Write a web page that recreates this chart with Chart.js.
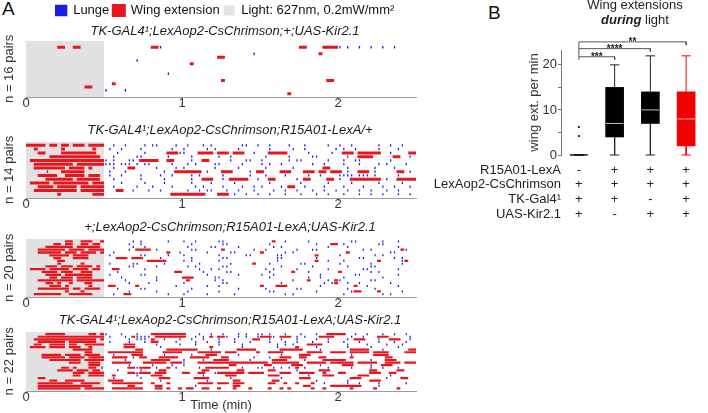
<!DOCTYPE html>
<html>
<head>
<meta charset="utf-8">
<script src="https://cdn.jsdelivr.net/npm/chart.js@4.4.0/dist/chart.umd.min.js"></script>
<style>
html, body { margin: 0; padding: 0; background: #fff; width: 708px; height: 413px; overflow: hidden; }
.wrap { position: absolute; }
.panel { position: absolute; font-family: 'Liberation Sans', Arial, sans-serif; font-size: 19px; color: #111; }
#titleB { position: absolute; left: 560px; width: 150px; top: -3px; text-align: center;
  font-family: 'Liberation Sans', Arial, sans-serif; font-size: 13px; line-height: 15px; color: #222; z-index: 2; }
</style>
</head>
<body>
<div class="panel" style="left:2px;top:-2px">A</div>
<div class="panel" style="left:488px;top:2px">B</div>
<div id="titleB">Wing extensions<br><b><i>during</i></b> light</div>

<div class="wrap" style="left:0;top:0;width:450px;height:115px"><canvas id="raster1"></canvas></div>
<div class="wrap" style="left:0;top:119px;width:460px;height:97px"><canvas id="raster2"></canvas></div>
<div class="wrap" style="left:0;top:216px;width:460px;height:99px"><canvas id="raster3"></canvas></div>
<div class="wrap" style="left:0;top:309px;width:460px;height:104px"><canvas id="raster4"></canvas></div>
<div class="wrap" style="left:420px;top:0;width:288px;height:225px"><canvas id="boxes"></canvas></div>

<script>
const FONT = "'Liberation Sans', Arial, sans-serif";
const BLUE = '#1c1ce4';
const RED = '#e8161c';
const GRAY = '#e2e2e2';

// ethogram strings: one char = 0.025 min, '|' jumps to the next 0.5 min block
// 'w' = wing extension, 'l' = lunge, '.' = nothing
const BIN = 0.025;
const BLOCK = 20;

const timeTicks = [0, 1, 2];
const timeMax = 2.5;
const lightPeriod = [0, 0.5];

const rasterTitles = [
  'TK-GAL4\u00b9;LexAop2-CsChrimson;+;UAS-Kir2.1',
  'TK-GAL4\u00b9;LexAop2-CsChrimson;R15A01-LexA/+',
  '+;LexAop2-CsChrimson;R15A01-LexA;UAS-Kir2.1',
  'TK-GAL4\u00b9;LexAop2-CsChrimson;R15A01-LexA;UAS-Kir2.1'
];
const rasterPairs = [16, 14, 20, 22];

const raster1Rows = [
  '',
  '........ww..ww|............wwl||..........ww....wwww|l.l..l..l..l..l',
  '',
  '||..................l|...............w',
  '||.........ww',
  '|........l',
  '||..w',
  '',
  '',
  '|................l',
  '',
  '||..........w|.................ww',
  '|..w',
  '...............ww',
  '|l....l',
  '|||.......w'
];

const raster2Rows = [
  'wwwww.ww.ww.www.wwww|..l..l....l.ll....l.|.l...l.l.......ll..l|..l....l...l.....l|l..l......l..l..l',
  '..w......w.......w|.l..l....l.......l|l.....l.l.....l|..l.....l..l.......l|.l..l.....l....l',
  '...ww....wwwwwwwww|...l......l.....wwwl|l...wwww.www.www..l|..wwwww.....l.....l|.www.wwwwww..l....ww',
  '......wwwwwwwwwwwww|..l.....ll......l|..l......l..l|.l.....l.....ll|..l..wwww.....ww..l',
  '.wwwwwwwwwwwwwwwwwww|l.l...ll.wwwww..ww|..l..ww.....l...ll|l......l.ll......l|.l..ll.......l',
  '..wwwwwwwwww.wwwwwww|lll.lll.l.ll.....l|.l.l....ll.....l|l.l..l.......l..l|.l...l....l.l....l',
  '..wwwwwwww.wwww.w|..l...ww.....l....l|l.......l.....l|.l......l.......ww|..l......l....l',
  '.....l...wwwwww|.l...l.........l..ww|wwwww.l...www....l.w|w....www...www.ww.ww|w.l..www.l.....ww.l',
  '...wwwww..wwwww.www|.l..l....l....l..l|..l.l.....l......l|.l....l.....l..l|llll.lll.l.....l',
  '.....wwwwwww.wwwwww|..l......l.....l|..l..www..l.wwwww..l|..ww.....l.ww....ww|l..wwwwwwww.l..wwwww',
  '.wwwww.wwwwwwwww.www|....l.....l....l|..l....l.....l|..l.......l......l|...l......l.....l',
  '...wwww.wwwww.wwwwww|..l.....l...l....l|...l.l....l....l..l|l....l.ww..l....l|.l....l....l..l...l',
  '..wwwwwwwwwww.wwwwww|...ww..l...l..l|.l..l.ll...l..l...l|...l..l..l...l..l..l|..l..l..l...l..l',
  '........w........www|.................www|wwwwww...www.l..l..l|..l...l...l...l..l|.l...l..l..l...l..l'
];

const raster3Rows = [
  '..........ww..www..w|.......l.l......l|l..l.....ll|...w..l.....l|...ll......l...l',
  '.......ww.ww..ww.ww|......l..l|..l.......ll|..l...........l...ww|.l........ll',
  '.....wwwwwww.wwwwww|.......l..l|.l.....ll.....l|...l.l...........l|..l............l',
  '...wwwwwww.wwww.wwww|......l.wwww.l|..ll......w.......l|.l.......l...ll|......l.l.......wl',
  '...wwwwww.www.wwww.w|..l.............w..l|......l.....ll|w.....l.l|..w..........ll',
  '......wwwww.wwww|.l.......ll.....l|l........l......ll|....ll........w|l........l.l',
  '.......ww...wwww|...www.www....l|..l.......ll|....ll........l|.....ll.......l.l',
  '........ww|...........wwwww|l.l......l|....l.........w..l|.l........w.....lw',
  '........w.....w|.l.....ll......l|....l.......l.....w|..l.......ll|l.......l.......l',
  '.....www.www.wwww.w|......ll.....l|.l.l......ll|.....l.......l|..l.....ll',
  '.wwww.wwwww.wwww.ww|..ww......l|....l..l.l|.l.l.....l.......l|......ll.......l',
  '....wwww.www..www|...l..............ww|.....l.....ll|..l.....w...l|w.......l.l',
  '.....wwww.wwwwwww|.l.......ll|......l.......l|l..l...........l|....ll.........l',
  '......ww.www.wwww|....l........l|www.....ll|..l.........l..l|.l.........l',
  '...wwwwwwwww.wwwwwww|.....l.......l|.w......l.l|........l...w....l.w|l.......ll',
  '.....ww.w..w...ww|......l....l|l.........ll|.....l..........l.lw|..l..l.......l',
  '......www.w.....w|.ww.....w.........l|......l..l|w...www........l|....w..l.......l',
  '...wwwwwwww.ww.wwww|...l.....ll|..l...........l|.l.......ll|..l......l',
  '..........w...w|......l......l|.l.......l|..ll..........l|...lww....w.....l',
  '..wwwwwww..wwwwww|..l..ww.........l|l.....l......l|......l.l|.l.........l.l'
];

const raster4Rows = [
  '.....wwwww......ww.w|l...l...l...wwwwwwww|w...l..l..l...l.l..l|l.l...l...l...l..www|ww..l..l...l..l..l',
  '...wwwwwwwwwwwwwwwww|.l...l.wllll.wwwwwww|w..l.l.w.wwl..l.l..l|wwwl.www.l.l...wwww|...l..l...www.....l',
  '..wwwwwwwwwwwwwwww.w|......l.lll.w..l...l|..l..l...l...l....ww|..l..l...l....l..l|..l.www...l..www..l',
  '...wwwwwww.wwwwwww|.l....l...l.ww....l|...l..l..l...l...l|..l...l..l...l...l|.l...l....l...l..l',
  '..ww..wwww.ww..wwwww|.....www.....l.....l|...l.....l.....l|....l.l.l...wwww|..l....l....l...l',
  '.wwww.wwww.www..w|.....www......l|.......w.......l|....l....w....l|..l.....l......l',
  '............wwwww|........ww......wwww|wwww...l......wwwww|.....wwwwww....l|...wwwww...l......ww',
  '...............ww|.wwwwwwwww.....wwwww|....wwwwww.www.....w|..wwww......wwww..ww|ww.wwwww.wwww....www',
  '....wwwww.wwww.wwww|..l....www.....l|..l...www.....l|.....l....www|...l.....wwww',
  '....wwwwww.wwww.wwww|..wwww.l.ww...wwwww|..wwwww...ww......l|..l..www..ww...ww|...w........ww',
  '......wwwwwwww.wwwww|.....l......wwwww|l....l..wwww.....l|...wwww....l....wwww|ww......l...www',
  '...........www..www|..wwwww...wwwwww.www|l...wwwwwwwwwwwwwwww|ww.wwwwwww..wwwww.ww|wwww.wwwww..wwww.www',
  '................www|......l.....l....l|l...........ww|.ww.....www....l|.www....l..www',
  '.........ww.w...ww.l|......wwlwww.l..w.l|....l.wwwwww...l...l|l..l.l.l.w.l.....l|...l....l..l...l',
  '........wwww.www.ww|...l.....l....ww|.....ww.......ww|..ww.....l.....www|........ww.....ww',
  '............www.wwww|......wwlwww.www|ww..ww..lwwwwwww.www|w....www..wwww..w|ww......www..ww',
  '............ww..wwww|..w.....l...www|.....l.....www|..www.......l...www|.....www.....l',
  '...ww|..l......l....www|...wwww.....l|.....l....www|...www......l...ww',
  '......ww..wwwww|.wwww.........l|......l......ww|...ww.........l|..l.....www',
  '...wwwwwwwww..wwwww|..wwwwwwww..w...w|....wwww.www.www|..ww..w..w...w..l|..l..l....l......l',
  '...wwwwwwwwwwwwww|......ww.....ww|...l.........ww|...........ww.....ww|wwwwww....l',
  '...wwwwwwwwwww.wwwww|..wwwwwwww...ww.w..w|.ww..ww..w...w...w|..w..w.w.....w..w|...w.....w.....w'
];

// panel B
const genotypeNames = ['R15A01-LexA', 'LexAop2-CsChrimson', 'TK-Gal4\u00b9', 'UAS-Kir2.1'];
const genotypeMarks = [
  ['-', '+', '+', '+'],
  ['+', '+', '+', '+'],
  ['+', '+', '-', '+'],
  ['+', '-', '+', '+']
];
const boxMin = [0, 0, 0, 0];
const boxQ1 = [0, 4, 7, 2];
const boxMedian = [0, 7, 10, 8];
const boxQ3 = [0, 15, 14, 14];
const boxMax = [0, 20, 22, 22];
const outlierGroup = [1, 1];
const outlierValue = [6.2, 4.2];
const sigTo = [2, 3, 4];
const sigLevel = [21.8, 23.6, 25.1];
const sigLabel = ['***', '****', '**'];
const wingTicks = [0, 5, 10, 15, 20];
const wingMax = 23.3;

Chart.defaults.font.family = FONT;

function parseRows(rows) {
  const wing = [], lunge = [];
  rows.forEach(function (row, r) {
    let pos = 0, block = 0;
    for (let k = 0; k < row.length; k++) {
      const c = row[k];
      if (c === '|') { block++; pos = block * BLOCK; continue; }
      if (c === 'w') {
        const prev = k > 0 ? row[k - 1] : '';
        if (prev !== 'w') wing.push({x: pos * BIN, y: r});
        const next = k + 1 < row.length ? row[k + 1] : '';
        if (next !== 'w') {
          wing.push({x: (pos + 1) * BIN, y: r});
          wing.push({x: (pos + 1) * BIN, y: null});
        }
      } else if (c === 'l') {
        lunge.push({x: (pos + 0.5) * BIN, y: r});
      }
      pos++;
    }
  });
  return {wing, lunge};
}

function makeRaster(id, idx, rows, style) {
  const n = rasterPairs[idx];
  const ev = parseRows(rows);
  return new Chart(document.getElementById(id), {
    type: 'scatter',
    data: {
      datasets: [
        {
          label: 'Lunge', data: ev.lunge, order: 0, showLine: false,
          pointStyle: 'line', rotation: 90, pointRadius: style.tick, borderWidth: 1.3,
          borderColor: BLUE, backgroundColor: BLUE
        },
        {
          label: 'Wing extension', data: ev.wing, order: 1, showLine: true, spanGaps: false,
          pointRadius: 0, borderWidth: style.bar, borderCapStyle: 'butt',
          borderColor: RED, backgroundColor: RED
        },
        {
          label: 'Light: 627nm, 0.2mW/mm\u00b2', order: 2, showLine: true,
          data: [{x: lightPeriod[0], y: -1}, {x: lightPeriod[1], y: -1}],
          pointRadius: 0, borderWidth: 0, borderColor: GRAY, backgroundColor: GRAY,
          fill: {value: n}
        }
      ]
    },
    options: {
      animation: false, responsive: true, maintainAspectRatio: false, events: [],
      layout: {padding: 0},
      plugins: {
        tooltip: {enabled: false},
        legend: {
          display: !!style.legend, position: 'top', align: 'center', fullSize: true, weight: 3000,
          labels: {boxWidth: 11, boxHeight: 10, padding: 4, font: {size: 13}, color: '#111'}
        },
        title: {
          display: true, text: rasterTitles[idx], fullSize: true, weight: 2000,
          font: {size: 13, style: 'italic', weight: 'normal'}, color: '#1a1a1a',
          padding: style.titlePad
        }
      },
      scales: {
        x: {
          type: 'linear', min: 0, max: timeMax,
          afterBuildTicks: function (s) { s.ticks = timeTicks.map(v => ({value: v})); },
          afterFit: function (s) { s.height = style.axisH; },
          ticks: {font: {size: 13}, color: '#333', padding: -4, maxRotation: 0, autoSkip: false},
          grid: {drawOnChartArea: false, tickLength: 3, color: '#9a9a9a'},
          border: {color: '#9a9a9a'},
          title: {display: !!style.xTitle, text: style.xTitle || '', font: {size: 13}, color: '#333', padding: 0}
        },
        y: {
          type: 'linear', min: -1, max: n, reverse: true,
          afterFit: function (s) { s.width = 26; },
          ticks: {display: false}, grid: {display: false}, border: {display: false},
          title: {display: true, text: 'n = ' + n + ' pairs', font: {size: 13}, color: '#333', padding: {top: 2, bottom: 0}}
        },
        // empty right-hand spacer, only used to centre the title like the original
        spacer: {
          type: 'linear', position: 'right', display: true,
          afterFit: function (s) { s.width = style.rightW; },
          ticks: {display: false}, grid: {display: false}, border: {display: false}
        }
      }
    }
  });
}

makeRaster('raster1', 0, raster1Rows, {bar: 3, tick: 1.3, axisH: 18, rightW: 34, legend: true, titlePad: {top: -3, bottom: 1}});
makeRaster('raster2', 1, raster2Rows, {bar: 3, tick: 1.1, axisH: 18, rightW: 44, titlePad: {top: 4, bottom: 3}});
makeRaster('raster3', 2, raster3Rows, {bar: 2.3, tick: 1.0, axisH: 18, rightW: 44, titlePad: {top: 4, bottom: 3}});
makeRaster('raster4', 3, raster4Rows, {bar: 2.2, tick: 1.0, axisH: 22, rightW: 44, xTitle: 'Time (min)', titlePad: {top: 4, bottom: 3}});

// ---- panel B : box plot ----
const BOX_COLORS = ['#000000', '#000000', '#000000', '#f40000'];
const WHISKER_COLORS = ['#222222', '#222222', '#222222', '#f40000'];
const CAP = 0.13;
const HALF_BOX = 0.245;

function whiskerData(i) {
  const x = i + 1;
  return [
    {x: x, y: boxQ3[i]}, {x: x, y: boxMax[i]}, {x: x, y: null},
    {x: x - CAP, y: boxMax[i]}, {x: x + CAP, y: boxMax[i]}, {x: x, y: null},
    {x: x, y: boxQ1[i]}, {x: x, y: boxMin[i]}, {x: x, y: null},
    {x: x - CAP, y: boxMin[i]}, {x: x + CAP, y: boxMin[i]}
  ];
}

function medianData(list) {
  const out = [];
  list.forEach(function (i) {
    out.push({x: i + 1 - HALF_BOX, y: boxMedian[i]}, {x: i + 1 + HALF_BOX, y: boxMedian[i]}, {x: i + 1, y: null});
  });
  return out;
}

const bracketData = [];
sigTo.forEach(function (to, k) {
  bracketData.push({x: 1, y: sigLevel[k]}, {x: to, y: sigLevel[k]}, {x: to, y: sigLevel[k] - 0.7}, {x: to, y: null});
});
bracketData.push({x: 1, y: sigLevel[0] - 0.7}, {x: 1, y: sigLevel[sigLevel.length - 1]});

const boxDatasets = [
  {
    type: 'bar', order: 5,
    data: boxQ1.map((q, i) => ({x: i + 1, y: [q, boxQ3[i]]})),
    backgroundColor: BOX_COLORS, barThickness: 18, borderWidth: 0
  }
];
boxQ1.forEach(function (q, i) {
  boxDatasets.push({
    type: 'line', order: 4, data: whiskerData(i), borderColor: WHISKER_COLORS[i],
    borderWidth: 1, pointRadius: 0, spanGaps: false, clip: false
  });
});
boxDatasets.push({
  type: 'line', order: 1, data: medianData([0]), borderColor: '#000',
  borderWidth: 1.3, pointRadius: 0, spanGaps: false, clip: false
});
boxDatasets.push({
  type: 'line', order: 1, data: medianData([1, 2, 3]), borderColor: 'rgba(255,255,255,0.75)',
  borderWidth: 1, pointRadius: 0, spanGaps: false, clip: false
});
boxDatasets.push({
  type: 'scatter', order: 1, data: outlierValue.map((v, k) => ({x: outlierGroup[k], y: v})),
  pointRadius: 1.1, backgroundColor: '#111', borderWidth: 0, clip: false
});
boxDatasets.push({
  type: 'line', order: 1, data: bracketData, borderColor: '#555',
  borderWidth: 1, pointRadius: 0, spanGaps: false, clip: false
});

const boxText = {
  id: 'boxText',
  afterDraw: function (chart) {
    const ctx = chart.ctx;
    const x = chart.scales.x, y = chart.scales.y, area = chart.chartArea;
    ctx.save();
    ctx.fillStyle = '#222';
    ctx.font = 'bold 10px ' + FONT;
    ctx.textAlign = 'center';
    ctx.textBaseline = 'alphabetic';
    sigLabel.forEach(function (t, k) {
      const px = (x.getPixelForValue(1) + x.getPixelForValue(sigTo[k])) / 2;
      ctx.fillText(t, px, y.getPixelForValue(sigLevel[k]) + 3);
    });
    ctx.font = '13px ' + FONT;
    ctx.textBaseline = 'middle';
    genotypeNames.forEach(function (name, k) {
      const py = area.bottom + 15 + k * 14.7;
      ctx.textAlign = 'right';
      ctx.fillText(name, area.left, py);
      ctx.textAlign = 'center';
      genotypeMarks[k].forEach(function (m, i) {
        ctx.fillText(m, x.getPixelForValue(i + 1), py);
      });
    });
    ctx.restore();
  }
};

new Chart(document.getElementById('boxes'), {
  type: 'bar',
  data: {datasets: boxDatasets},
  options: {
    animation: false, responsive: true, maintainAspectRatio: false, events: [],
    layout: {padding: {left: 107, top: 50, bottom: 70, right: 0}},
    plugins: {legend: {display: false}, tooltip: {enabled: false}},
    scales: {
      x: {type: 'linear', min: 0.5, max: 4.5, display: false, offset: false},
      y: {
        type: 'linear', min: 0, max: wingMax,
        afterFit: function (s) { s.width = 34; },
        afterBuildTicks: function (s) { s.ticks = wingTicks.map(v => ({value: v})); },
        ticks: {callback: v => (v % 10 === 0 ? String(v) : ''), font: {size: 13}, color: '#333', padding: 1},
        grid: {drawOnChartArea: false, tickLength: 3, color: '#777'},
        border: {color: '#777'},
        title: {display: true, text: 'wing ext. per min', font: {size: 13}, color: '#333', padding: 0}
      }
    }
  },
  plugins: [boxText]
});
</script>
</body>
</html>
